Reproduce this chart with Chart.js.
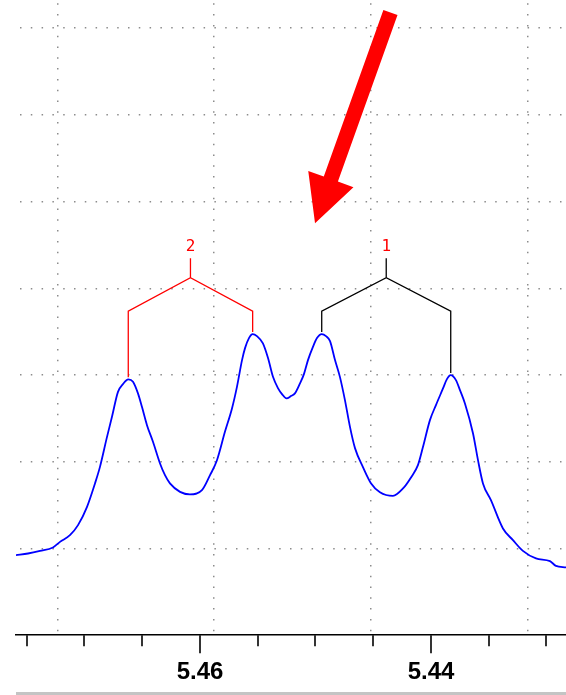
<!DOCTYPE html>
<html>
<head>
<meta charset="utf-8">
<script src="https://cdn.jsdelivr.net/npm/chart.js@4.4.1/dist/chart.umd.min.js"></script>
<style>
  html, body { margin: 0; padding: 0; background: #ffffff; }
  canvas { display: block; }
</style>
</head>
<body>
<canvas id="spectrum" width="566" height="695"></canvas>
<script>
// 1H NMR trace, chemical shift (ppm) vs. intensity
const shiftPpm = [
  5.47593, 5.47489, 5.47385, 5.47273, 5.47212, 5.47126, 5.47056, 5.46978, 5.46909, 5.46866,
  5.46805, 5.46762, 5.46710, 5.46667, 5.46621, 5.46580, 5.46537, 5.46502, 5.46459, 5.46407,
  5.46346, 5.46303, 5.46260, 5.46173, 5.46087, 5.45983, 5.45913, 5.45853, 5.45784, 5.45723,
  5.45680, 5.45636, 5.45610, 5.45576, 5.45544, 5.45507, 5.45455, 5.45411, 5.45368, 5.45325,
  5.45290, 5.45251, 5.45212, 5.45178, 5.45134, 5.45100, 5.45065, 5.45022, 5.44987, 5.44946,
  5.44909, 5.44874, 5.44831, 5.44788, 5.44745, 5.44701, 5.44658, 5.44589, 5.44520, 5.44442,
  5.44329, 5.44242, 5.44173, 5.44113, 5.44069, 5.44009, 5.43957, 5.43896, 5.43862, 5.43829,
  5.43784, 5.43749, 5.43706, 5.43636, 5.43593, 5.43550, 5.43481, 5.43377, 5.43290, 5.43204,
  5.43091, 5.42970, 5.42918, 5.42831
];
const intensity = [
  0.923, 0.942, 0.972, 1.012, 1.076, 1.153, 1.269, 1.480, 1.750, 1.941,
  2.287, 2.518, 2.806, 2.895, 2.949, 2.922, 2.788, 2.630, 2.422, 2.230,
  1.980, 1.845, 1.750, 1.653, 1.623, 1.672, 1.845, 2.018, 2.345, 2.615,
  2.864, 3.172, 3.310, 3.426, 3.472, 3.449, 3.364, 3.195, 2.979, 2.849,
  2.780, 2.730, 2.757, 2.788, 2.903, 3.010, 3.172, 3.325, 3.426, 3.472,
  3.449, 3.391, 3.172, 2.976, 2.711, 2.399, 2.157, 1.938, 1.753, 1.649,
  1.607, 1.692, 1.819, 1.961, 2.172, 2.480, 2.653, 2.845, 2.953, 2.999,
  2.941, 2.826, 2.672, 2.326, 2.018, 1.750, 1.557, 1.231, 1.096, 0.972,
  0.885, 0.854, 0.799, 0.781
];

// Axis ticks (ppm) and the ones that carry a label
const xTickValues = [5.430, 5.435, 5.440, 5.445, 5.450, 5.455, 5.460, 5.465, 5.470, 5.475];
const xLabelTicks = [5.46, 5.44];

// Dotted background grid
const gridX = [5.4723, 5.4588, 5.4452, 5.4316];
const gridY = [1, 2, 3, 4, 5, 6, 7];

// Multiplet annotations: name, the two lines (ppm), bracket colour
const multipletNames = ['1', '2'];
const multipletPeaks = [[5.44946, 5.43829], [5.46621, 5.45544]];
const multipletColors = ['#000000', '#ff0000'];

const X_MIN = 5.42831, X_MAX = 5.47593;
const Y_MIN = 0, Y_MAX = 7.324;

// bracket geometry in intensity units
const BRACKET = { gap: 0.025, foot: 3.737, apex: 4.121, stem: 4.345, label: 4.479 };

function heightAt(ppm) {
  let best = 0;
  shiftPpm.forEach((v, i) => { if (Math.abs(v - ppm) < Math.abs(shiftPpm[best] - ppm)) best = i; });
  return intensity[best];
}

const spectrumPoints = shiftPpm.map((v, i) => ({ x: v, y: intensity[i] }));

const bracketSets = multipletNames.map((name, k) => {
  const [a, b] = multipletPeaks[k];
  const c = (a + b) / 2;
  return {
    label: 'multiplet ' + name,
    data: [
      { x: a, y: heightAt(a) + BRACKET.gap },
      { x: a, y: BRACKET.foot },
      { x: c, y: BRACKET.apex },
      { x: b, y: BRACKET.foot },
      { x: b, y: heightAt(b) + BRACKET.gap },
      { x: c, y: null },
      { x: c, y: BRACKET.apex },
      { x: c, y: BRACKET.stem }
    ],
    borderColor: multipletColors[k],
    borderWidth: 1.3,
    pointRadius: 0,
    tension: 0,
    spanGaps: false,
    fill: false
  };
});

const isLabelTick = v => xLabelTicks.some(m => Math.abs(m - v) < 1e-6);

// tick marks, frame band, multiplet numbers and the pointer arrow
const decor = {
  id: 'decor',
  afterDatasetsDraw(chart) {
    const { ctx, scales: { x, y } } = chart;
    ctx.save();

    // multiplet numbers
    ctx.fillStyle = '#ff0000';
    ctx.font = '16px "DejaVu Sans Mono", monospace';
    ctx.textAlign = 'center';
    ctx.textBaseline = 'middle';
    multipletNames.forEach((name, k) => {
      const [a, b] = multipletPeaks[k];
      ctx.fillText(name, x.getPixelForValue((a + b) / 2), y.getPixelForValue(BRACKET.label));
    });

    // pointer arrow
    const from = { x: x.getPixelForValue(5.44351), y: y.getPixelForValue(7.18) };
    const to = { x: x.getPixelForValue(5.45004), y: y.getPixelForValue(4.749) };
    const len = Math.hypot(to.x - from.x, to.y - from.y);
    const ang = Math.atan2(to.y - from.y, to.x - from.x);
    const shaftW = 15, headW = 48, headL = 47;
    ctx.translate(to.x, to.y);
    ctx.rotate(ang);
    ctx.beginPath();
    ctx.moveTo(0, 0);
    ctx.lineTo(-headL, headW / 2);
    ctx.lineTo(-headL, shaftW / 2);
    ctx.lineTo(-len, shaftW / 2);
    ctx.lineTo(-len, -shaftW / 2);
    ctx.lineTo(-headL, -shaftW / 2);
    ctx.lineTo(-headL, -headW / 2);
    ctx.closePath();
    ctx.fillStyle = '#ff0000';
    ctx.fill();
    ctx.restore();
  },
  afterDraw(chart) {
    const { ctx, chartArea, scales: { x } } = chart;
    ctx.save();
    ctx.strokeStyle = '#000000';
    ctx.lineWidth = 1.6;
    x.ticks.forEach(t => {
      const px = Math.round(x.getPixelForValue(t.value));
      const len = isLabelTick(t.value) ? 18 : 11;
      ctx.beginPath();
      ctx.moveTo(px, chartArea.bottom);
      ctx.lineTo(px, chartArea.bottom + len);
      ctx.stroke();
    });
    ctx.fillStyle = '#c4c4c4';
    ctx.fillRect(chartArea.left, chart.height - 3, chart.width - chartArea.left, 3);
    ctx.restore();
  }
};

const dotted = { display: false, dash: [1.5, 9.3] };

new Chart(document.getElementById('spectrum'), {
  type: 'line',
  data: {
    datasets: [
      {
        label: 'spectrum',
        data: spectrumPoints,
        borderColor: '#0000ff',
        borderWidth: 1.8,
        pointRadius: 0,
        cubicInterpolationMode: 'monotone',
        fill: false
      },
      ...bracketSets
    ]
  },
  options: {
    responsive: false,
    animation: false,
    devicePixelRatio: 1,
    layout: { padding: { left: 16, right: 0, top: 0, bottom: 3 } },
    plugins: { legend: { display: false }, tooltip: { enabled: false } },
    scales: {
      x: {
        type: 'linear',
        position: 'bottom',
        reverse: true,
        min: X_MIN,
        max: X_MAX,
        afterBuildTicks: s => { s.ticks = xTickValues.map(v => ({ value: v })); },
        grid: { display: true, drawOnChartArea: false, drawTicks: true, tickLength: 18, tickColor: 'rgba(0,0,0,0)' },
        border: { display: true, color: '#000000', width: 1.6 },
        ticks: {
          padding: 5,
          color: '#000000',
          font: { family: '"Liberation Sans", Arial, sans-serif', size: 24, weight: 'bold' },
          maxRotation: 0,
          autoSkip: false,
          callback: v => (isLabelTick(v) ? v.toFixed(2) : '')
        }
      },
      xGrid: {
        type: 'linear',
        position: 'top',
        reverse: true,
        min: X_MIN,
        max: X_MAX,
        afterBuildTicks: s => { s.ticks = gridX.map(v => ({ value: v })); },
        grid: { color: '#8c8c8c', lineWidth: 1.5, drawTicks: false },
        border: Object.assign({}, dotted, { dashOffset: 7.5 }),
        ticks: { display: false }
      },
      y: {
        type: 'linear',
        position: 'left',
        min: Y_MIN,
        max: Y_MAX,
        afterBuildTicks: s => { s.ticks = gridY.map(v => ({ value: v })); },
        grid: { color: '#8c8c8c', lineWidth: 1.5, drawTicks: false },
        border: Object.assign({}, dotted, { dashOffset: 6.8 }),
        ticks: { display: false }
      }
    }
  },
  plugins: [decor]
});
</script>
</body>
</html>
